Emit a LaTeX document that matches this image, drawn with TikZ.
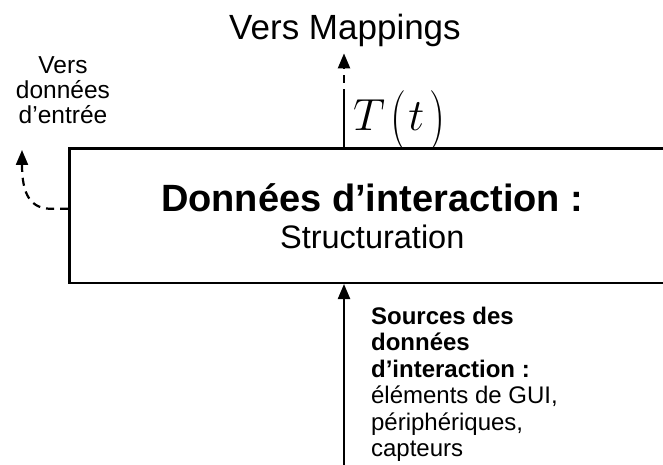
\documentclass[tikz,border=0pt]{standalone}
\usepackage{fix-cm}
\usepackage{graphicx}
\usepackage[no-math]{fontspec}
\setmainfont{Liberation Sans}
\usetikzlibrary{arrows.meta}
\newcommand{\tallparen}[1]{\mathopen{\raisebox{-4pt}{\scalebox{1}[1.33]{$#1$}}}}
\newcommand{\tallparenr}[1]{\mathclose{\raisebox{-4pt}{\scalebox{1}[1.33]{$#1$}}}}
\begin{document}
\begin{tikzpicture}[x=1pt,y=1pt,line width=2.2pt,
  lbl/.style={inner sep=0pt,font=\fontsize{24}{26.4}\selectfont},
  tip/.style={-{Triangle[length=15pt,width=12pt]}},
  dsh/.style={dash pattern=on 8pt off 6pt}]
\useasboundingbox (0,0) rectangle (663,464);
\begin{scope}
\clip (0,0) rectangle (663,464);
\node[draw,line width=2.5pt,minimum width=606pt,minimum height=134pt,inner sep=0pt,anchor=south west,align=center,font=\fontsize{32.5}{37}\selectfont] (box) at (68,180)
  {{\fontsize{38}{40}\selectfont\bfseries Données d’interaction :}\\Structuration};
\end{scope}
% top
\node[inner sep=0pt,anchor=base,font=\fontsize{35}{40}\selectfont] (vm) at (345,424) {Vers Mappings};
\coordinate (m) at (344,367);
\draw (m |- box.north) -- (m);
\draw[dsh,tip] (m) -- ([yshift=-5pt]vm.south -| m);
\node[anchor=base west,inner sep=0pt,font=\fontsize{45}{45}\selectfont] (tt) at (352,333) {$T\mkern2mu\tallparen{(}\mkern1mu t\mkern2mu\tallparenr{)}$};
% left
\node[lbl,align=center,anchor=south,font=\fontsize{24.5}{25}\selectfont] (vd) at (63,339) {Vers\\données\\d’entrée};
\coordinate (lt) at (22,314);
\draw[dsh,tip] ([yshift=7pt]box.west) -- ++(-14,0) .. controls (30,254) and (22,270) .. (lt);
% bottom
\coordinate (b0) at (344,-5);
\draw[tip] (b0) -- (b0 |- box.south);
\node[lbl,align=left,anchor=north west] (src) at (370,158) {\textbf{Sources des}\\\textbf{données}\\\textbf{d’interaction :}\\éléments de GUI,\\périphériques,\\capteurs};
\end{tikzpicture}
\end{document}
